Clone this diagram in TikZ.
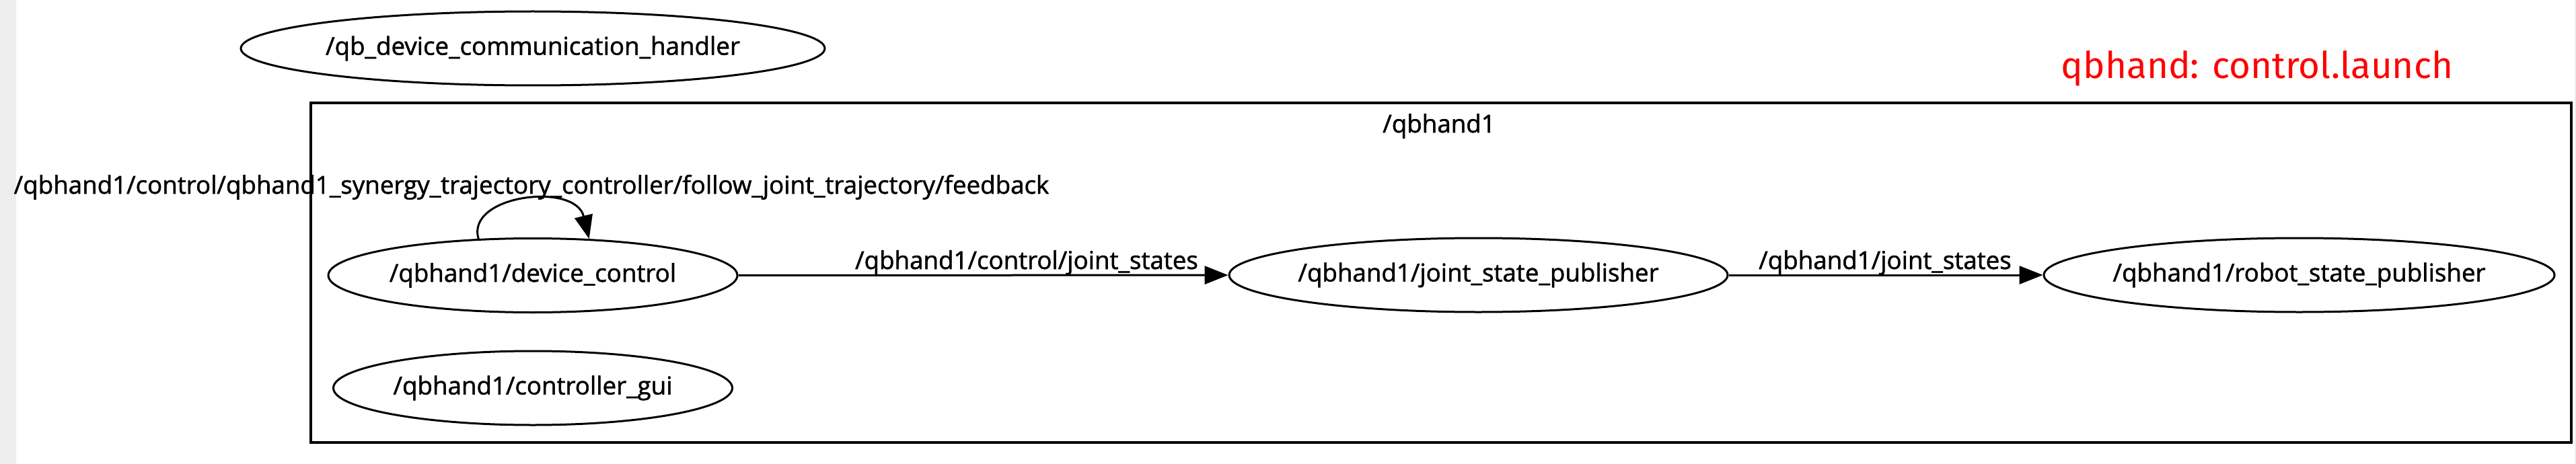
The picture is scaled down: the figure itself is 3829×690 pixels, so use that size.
\documentclass[tikz,border=0pt]{standalone}
\usepackage{fontspec}
\setmainfont{Open Sans}
\newfontfamily\nodefont{Open Sans}[FakeBold=1.5]
\newfontfamily\titlefont{Fira Sans}
\usetikzlibrary{arrows.meta,shapes.geometric}
\newcommand{\rosname}[1]{\makebox[0pt]{#1}}
\begin{document}
\begin{tikzpicture}[x=1pt,y=-1pt,
  rosnode/.style={draw, ellipse, line width=3pt, inner sep=0pt, minimum height=110pt, font=\nodefont\fontsize{36.7}{42}\selectfont},
  topic/.style={-{Triangle[length=35pt,width=27pt]}, line width=3pt},
  elabel/.style={font=\nodefont\fontsize{36.7}{42}\selectfont, anchor=base, inner sep=0pt},
  cluster/.style={draw, line width=3.5pt},
]
\fill[white] (0,0) rectangle (3829,690);
\useasboundingbox (0,0) rectangle (3829,690);
\fill[black!7] (0,0) rectangle (24,690);
\fill[black!7] (3827,0) rectangle (3829,690);
\node[cluster, minimum width=3360pt, minimum height=505pt, inner sep=0pt] (cl) at (2142,405.5) {};
\node[elabel] (cltitle) at (2139,197) {/qbhand1};
\node[anchor=base, inner sep=0pt, text=red, font=\titlefont\fontsize{54.8}{60}\selectfont] (title) at (3355,117) {qbhand: control.launch};

\node[rosnode, minimum width=868pt] (qb) at (792,72) {\rosname{/qb\_device\_communication\_handler}};
\node[rosnode, minimum width=608pt] (dc) at (792,409.5) {\rosname{/qbhand1/device\_control}};
\node[rosnode, minimum width=593pt] (gui) at (792,577) {\rosname{/qbhand1/controller\_gui}};
\node[rosnode, minimum width=741pt] (jsp) at (2197.5,409) {\rosname{/qbhand1/joint\_state\_publisher}};
\node[rosnode, minimum width=759pt] (rsp) at (3417.5,409) {\rosname{/qbhand1/robot\_state\_publisher}};

\draw[topic] (dc) -- (jsp);
\draw[topic] (jsp) -- (rsp);
\draw[topic] (dc.146) .. controls (692,290) and (855,270) .. (dc.33);

\node[elabel] (l1) at (1526,400) {/qbhand1/control/joint\_states};
\node[elabel] (l2) at (2802,400) {/qbhand1/joint\_states};
\node[elabel] (l3) at (790,288) {/qbhand1/control/qbhand1\_synergy\_trajectory\_controller/follow\_joint\_trajectory/feedback};
\end{tikzpicture}
\end{document}
